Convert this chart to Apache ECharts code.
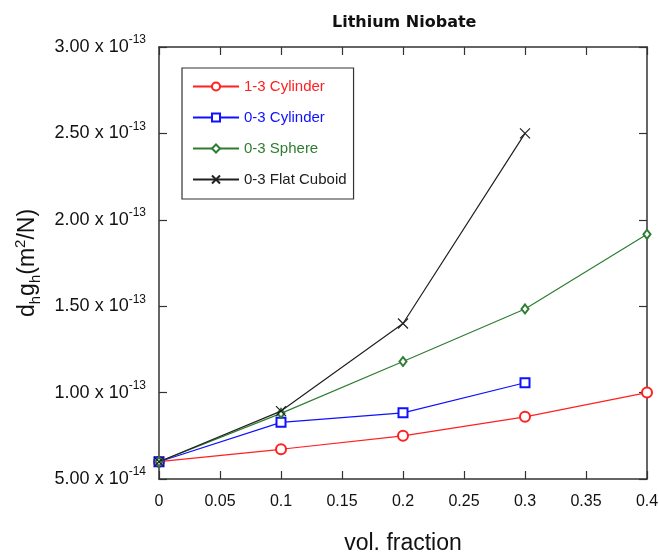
<!DOCTYPE html>
<html>
<head>
<meta charset="utf-8">
<script src="https://cdn.jsdelivr.net/npm/echarts@6/dist/echarts.min.js"></script>
<style>
html,body{margin:0;padding:0;background:#fff;}
#c{width:659px;height:555px;}
</style>
</head>
<body>
<div id="c"></div>
<script>
// ---- data ----
var xValues = [0, 0.1, 0.2, 0.3, 0.4];
var cylinder13 = [6.0e-14, 6.72e-14, 7.5e-14, 8.6e-14, 1.0e-13];
var cylinder03 = [6.0e-14, 8.28e-14, 8.83e-14, 1.057e-13];
var sphere03 = [6.0e-14, 8.8e-14, 1.18e-13, 1.484e-13, 1.916e-13];
var flatCuboid03 = [6.0e-14, 8.93e-14, 1.40e-13, 2.50e-13];
var seriesNames = ['1-3 Cylinder', '0-3 Cylinder', '0-3 Sphere', '0-3 Flat Cuboid'];
var yMin = 5e-14, yMax = 3e-13, yStep = 5e-14;
var xMin = 0, xMax = 0.4, xStep = 0.05;

function pairs(ys) {
  return ys.map(function (y, i) { return [xValues[i], y]; });
}

function sciLabel(v) {
  var e = Math.floor(Math.log10(v) + 1e-9);
  var m = v / Math.pow(10, e);
  return '{b|' + m.toFixed(2) + ' x 10}{s|' + e + '}';
}

var colors = ['#ff2020', '#1010ff', '#2e7d32', '#202020'];
var font = 'Arial, "Liberation Sans", sans-serif';
var axisLineStyle = {color: '#333', width: 1.5};

var chart = echarts.init(document.getElementById('c'), null, {renderer: 'canvas'});
var symbols = ['emptyCircle', 'emptyRect', 'emptyDiamond', 'path://M0,0L10,10M10,0L0,10'];
var sizes = [10, 9, [7, 9], 10];
var datas = [cylinder13, cylinder03, sphere03, flatCuboid03];

var series = datas.map(function (d, i) {
  return {
    name: seriesNames[i],
    type: 'line',
    data: pairs(d),
    symbol: symbols[i],
    symbolSize: sizes[i],
    showAllSymbol: true,
    lineStyle: {color: colors[i], width: 1.2},
    itemStyle: {color: colors[i], borderColor: colors[i], borderWidth: 1.2},
    emphasis: {disabled: true},
    animation: false,
    z: 3 + i
  };
});

chart.setOption({
  animation: false,
  backgroundColor: '#fff',
  title: {
    text: 'Lithium Niobate',
    left: 327, top: 10,
    textStyle: {fontFamily: '"DejaVu Sans", Verdana, sans-serif', fontWeight: 'bold', fontSize: 16, color: '#111'}
  },
  grid: {left: 159, right: 12, top: 47, bottom: 76, containLabel: false, outerBoundsMode: 'none'},
  legend: {
    orient: 'vertical',
    left: 182, top: 68,
    padding: [11, 7, 12, 10],
    itemWidth: 46, itemHeight: 10, itemGap: 16,
    borderColor: '#333', borderWidth: 1.2,
    backgroundColor: '#fff',
    data: seriesNames.map(function (n, i) {
      return {name: n, textStyle: {color: colors[i]}};
    }),
    textStyle: {fontFamily: font, fontSize: 15}
  },
  xAxis: [{
    type: 'value', min: xMin, max: xMax, interval: xStep,
    axisLine: {show: true, onZero: false, lineStyle: axisLineStyle},
    axisTick: {show: true, inside: true, length: 8, lineStyle: {color: '#333', width: 1.2}},
    splitLine: {show: false},
    axisLabel: {fontFamily: font, fontSize: 16, color: '#111', margin: 15},
    name: 'vol. fraction', nameLocation: 'middle', nameGap: 53,
    nameTextStyle: {fontFamily: font, fontSize: 23, color: '#111'}
  }, {
    type: 'value', position: 'top', min: xMin, max: xMax, interval: xStep,
    axisLine: {show: true, onZero: false, lineStyle: axisLineStyle},
    axisTick: {show: true, inside: true, length: 8, lineStyle: {color: '#333', width: 1.2}},
    axisLabel: {show: false}, splitLine: {show: false}
  }],
  yAxis: [{
    type: 'value', min: yMin, max: yMax, interval: yStep,
    axisLine: {show: true, onZero: false, lineStyle: axisLineStyle},
    axisTick: {show: true, inside: true, length: 8, lineStyle: {color: '#333', width: 1.2}},
    splitLine: {show: false},
    axisLabel: {
      margin: 13,
      formatter: sciLabel,
      rich: {
        b: {fontFamily: font, fontSize: 18, color: '#111'},
        s: {fontFamily: font, fontSize: 12, color: '#111', padding: [0, 0, 14, 0]}
      }
    },
    name: '{m|d}{sub|h}{m|g}{sub|h}{m|(m}{sup|2}{m|/N)}',
    nameLocation: 'middle', nameGap: 116, nameRotate: 90,
    nameTextStyle: {
      rich: {
        m: {fontFamily: font, fontSize: 23, color: '#111'},
        sub: {fontFamily: font, fontSize: 15, color: '#111', padding: [16, 0, 0, 0]},
        sup: {fontFamily: font, fontSize: 15, color: '#111', padding: [0, 0, 14, 0]}
      }
    }
  }, {
    type: 'value', position: 'right', min: yMin, max: yMax, interval: yStep,
    axisLine: {show: true, onZero: false, lineStyle: axisLineStyle},
    axisTick: {show: true, inside: true, length: 8, lineStyle: {color: '#333', width: 1.2}},
    axisLabel: {show: false}, splitLine: {show: false}
  }],
  series: series
});
</script>
</body>
</html>
